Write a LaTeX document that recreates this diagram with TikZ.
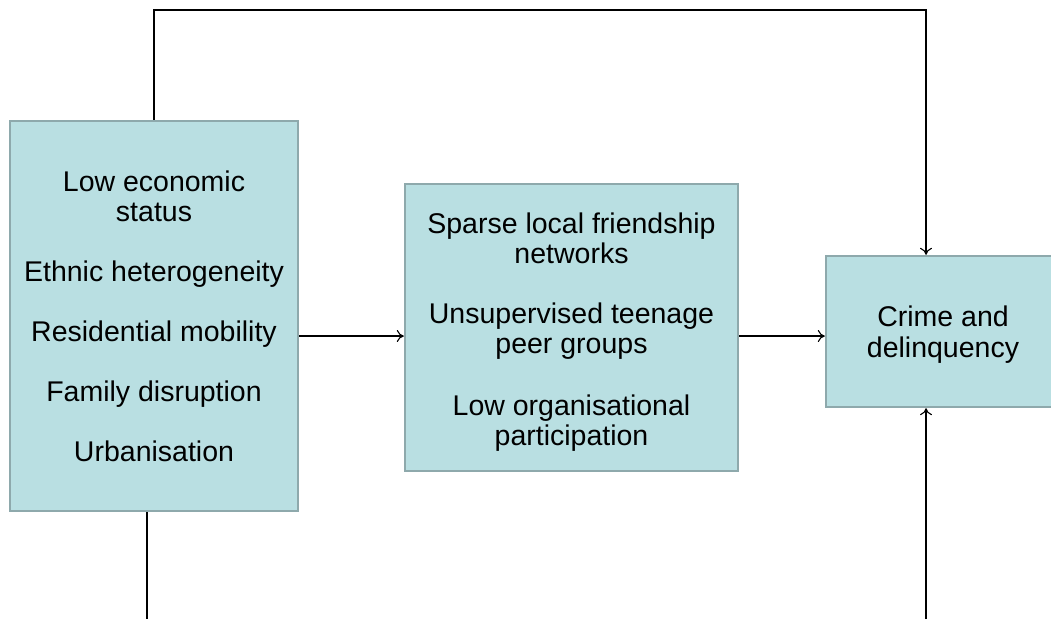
\documentclass[tikz,border=0pt]{standalone}
\usepackage{fontspec}
\setmainfont{Liberation Sans}
\usetikzlibrary{arrows.meta,calc}
\definecolor{boxfill}{HTML}{B9DFE2}
\definecolor{boxline}{HTML}{8EA9AC}
\tikzset{
  factorbox/.style={draw=boxline, line width=2.4pt, fill=boxfill, inner sep=0pt, align=center,
    font=\fontsize{28.5}{30}\selectfont},
  link/.style={line width=1.1pt, draw=black},
  arr/.style={link, -{To[length=7pt,width=12pt]}}
}
\begin{document}
\begin{tikzpicture}[x=1pt,y=-1pt]
\clip (0,0) rectangle (1051,619);
\fill[white] (0,0) rectangle (1051,619);
\node[factorbox, minimum width=288pt, minimum height=390pt] (left) at (154,316)
  {Low economic\\status\\[30pt]Ethnic heterogeneity\\[30pt]Residential mobility\\[30pt]Family disruption\\[30pt]Urbanisation};
\node[factorbox, minimum width=333pt, minimum height=287pt] (mid) at (571.5,327.5)
  {\rule{0pt}{29pt}Sparse local friendship\\networks\\[30pt]Unsupervised teenage\\peer groups\\[32pt]Low organisational\\participation};
\node[factorbox, minimum width=250pt, minimum height=151pt] (right) at (951,331.5) {};
\node[font=\fontsize{28.5}{31}\selectfont, align=center] (rtext) at (943,335) {Crime and\\delinquency};
\coordinate (tr) at (926,10);
\coordinate (bl) at (147,619);
\coordinate (br) at (926,619);
\draw[arr] (left.east |- 0,336) -- (mid.west |- 0,336);
\draw[arr] (mid.east |- 0,336) -- (right.west |- 0,336);
\draw[arr] (left.north) |- (tr) -- (tr |- right.north);
\draw[link] (bl |- left.south) -- (bl);
\draw[arr] (br) -- (br |- right.south);
\end{tikzpicture}
\end{document}
